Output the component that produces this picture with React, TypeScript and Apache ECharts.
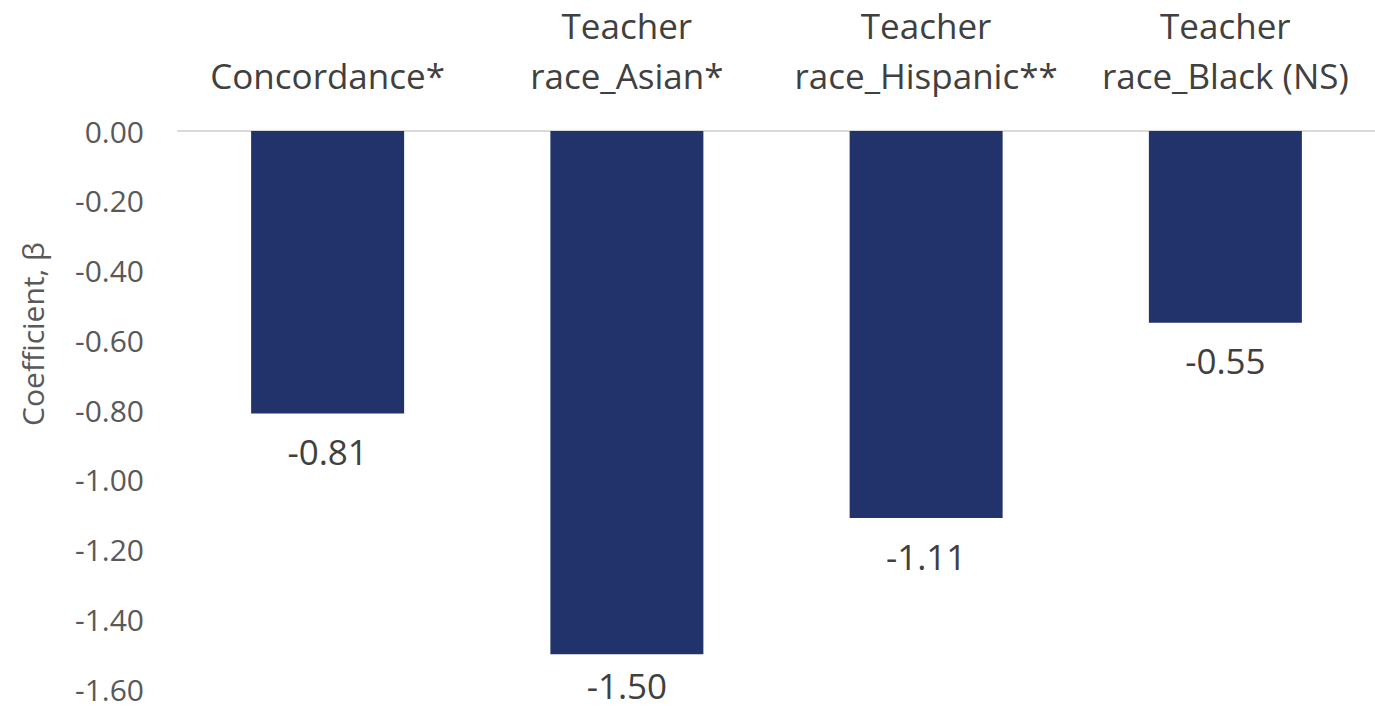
import React, { useEffect, useRef } from "react";
import * as echarts from "echarts";

// Regression coefficients by predictor
const categories = [
  "Concordance*",
  "Teacher\nrace_Asian*",
  "Teacher\nrace_Hispanic**",
  "Teacher\nrace_Black (NS)",
];
const coefficients = [-0.81, -1.5, -1.11, -0.55];

const yMin = -1.6;
const yMax = 0;
const yStep = 0.2;

const FONT = "'Open Sans', 'Noto Sans', sans-serif";

export default function App() {
  const ref = useRef<HTMLDivElement>(null);

  useEffect(() => {
    if (!ref.current) return;
    const chart = echarts.init(ref.current, null, { renderer: "svg" });
    // The deepest bar sits near the bottom edge; pull its label in a little.
    const barData = coefficients.map((v) =>
      v <= yMin + 0.15 ? { value: v, label: { distance: 14 } } : v
    );
    chart.setOption({
      animation: false,
      backgroundColor: "#ffffff",
      textStyle: { fontFamily: FONT },
      grid: { left: 178, top: 130, width: 1198, height: 559, containLabel: false },
      xAxis: {
        type: "category",
        position: "top",
        data: categories,
        axisLine: { show: true, lineStyle: { color: "#d9d9d9", width: 2 } },
        axisTick: { show: false },
        axisLabel: {
          interval: 0,
          color: "#404040",
          fontFamily: FONT,
          fontSize: 35,
          lineHeight: 50,
          margin: 31,
        },
      },
      yAxis: {
        type: "value",
        min: yMin,
        max: yMax,
        interval: yStep,
        axisLine: { show: false },
        axisTick: { show: false },
        splitLine: { show: false },
        axisLabel: {
          color: "#595959",
          fontFamily: FONT,
          fontSize: 30,
          margin: 34,
          formatter: (v: number) => v.toFixed(2),
        },
      },
      graphic: [
        {
          type: "text",
          x: 32,
          y: 334,
          rotation: Math.PI / 2,
          style: {
            text: "Coefficient, β",
            fill: "#595959",
            font: `30px ${FONT}`,
            align: "center",
            verticalAlign: "middle",
          },
        },
      ],
      series: [
        {
          type: "bar",
          data: barData,
          barWidth: 153,
          itemStyle: { color: "#22326a" },
          label: {
            show: true,
            position: "bottom",
            distance: 21,
            color: "#404040",
            fontFamily: FONT,
            fontSize: 35,
            lineHeight: 34,
            formatter: (p: any) => (p.value as number).toFixed(2),
          },
        },
      ],
    });
    return () => chart.dispose();
  }, []);

  return (
    <div
      ref={ref}
      style={{ position: "absolute", left: 0, top: 0, width: 1375, height: 710 }}
    />
  );
}
